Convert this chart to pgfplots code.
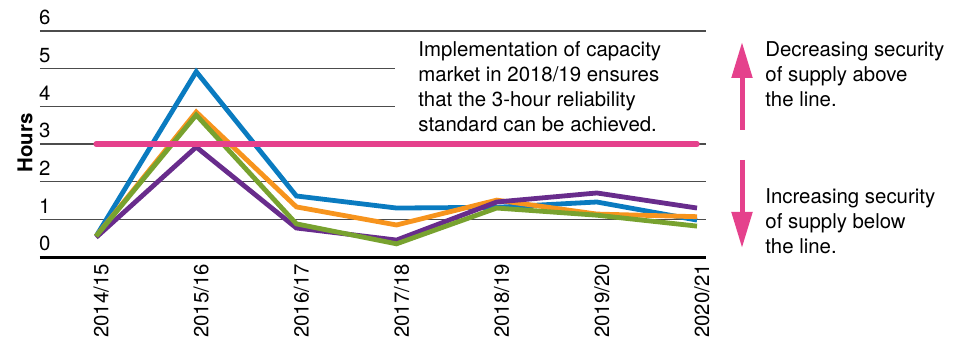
\documentclass[border=0pt]{standalone}
\usepackage{fontspec}
\setmainfont{TeX Gyre Heros}
\usepackage{pgfplots}
\pgfplotsset{compat=1.18}
\usetikzlibrary{arrows.meta}

\definecolor{cblue}{HTML}{0A7BC0}
\definecolor{corange}{HTML}{F7941D}
\definecolor{cgreen}{HTML}{78A22F}
\definecolor{cpurple}{HTML}{682C8C}
\definecolor{cpink}{HTML}{E5418C}

\begin{document}
\begin{tikzpicture}[font=\fontsize{10.2bp}{12.6bp}\selectfont]
  \path[use as bounding box] (-20bp,-46bp) rectangle (458bp,128.5bp);
  \begin{axis}[
    scale only axis,
    width=333bp, height=113bp,
    at={(0,0)}, anchor=south west,
    xmin=-0.56, xmax=6.09,
    ymin=0, ymax=6,
    axis x line=bottom,
    axis y line=left,
    axis line style={-},
    x axis line style={line width=1.5bp},
    y axis line style={draw=none},
    xtick={0,...,6},
    xticklabels={2014/15,2015/16,2016/17,2017/18,2018/19,2019/20,2020/21},
    ytick={0,...,6},
    major tick length=0pt,
    xticklabel style={rotate=90, anchor=east, yshift=-2.5bp},
    yticklabel style={anchor=south west, xshift=-4bp, yshift=-0.5bp},
    /pgf/number format/assume math mode=true,
    ymajorgrids,
    grid style={line width=0.6bp, draw=black!70},
    clip=false,
  ]
    % Blue
    \addplot[cblue, line width=2.4bp] coordinates {
      (0,0.55) (1,4.92) (2,1.62) (3,1.30) (4,1.32) (5,1.46) (6,0.98)
    };
    % Orange
    \addplot[corange, line width=2.4bp] coordinates {
      (0,0.55) (1,3.85) (2,1.33) (3,0.85) (4,1.51) (5,1.14) (6,1.07)
    };
    % Purple
    \addplot[cpurple, line width=2.4bp] coordinates {
      (0,0.52) (1,2.92) (2,0.77) (3,0.45) (4,1.46) (5,1.70) (6,1.30)
    };
    % Green
    \addplot[cgreen, line width=2.4bp] coordinates {
      (0,0.55) (1,3.77) (2,0.88) (3,0.35) (4,1.30) (5,1.11) (6,0.82)
    };
    % 3-hour reliability standard
    \addplot[cpink, line width=2.7bp, line cap=round] coordinates {
      (0,3) (6,3)
    };
  \end{axis}

  \node[rotate=90, font=\fontsize{10.2bp}{12.6bp}\selectfont\bfseries] at (-7.5bp,57bp) {Hours};

  % white box behind the note
  \fill[white] (177.5bp,61bp) rectangle (336bp,108.5bp);
  \node[anchor=north west, inner sep=0pt, align=left] at (189bp,108bp)
    {Implementation of capacity\\market in 2018/19 ensures\\that the 3-hour reliability\\standard can be achieved.};

  % arrows on the right
  \draw[cpink, line width=2.5bp, -{Triangle[width=10bp,length=18bp]}]
    (351bp,63.5bp) -- (351bp,107.5bp);
  \draw[cpink, line width=2.5bp, -{Triangle[width=10bp,length=18bp]}]
    (351bp,48.5bp) -- (351bp,4.5bp);
  \node[anchor=north west, inner sep=0pt, align=left] at (362.5bp,108bp)
    {Decreasing security\\of supply above\\the line.};
  \node[anchor=north west, inner sep=0pt, align=left] at (362.5bp,34.5bp)
    {Increasing security\\of supply below\\the line.};
\end{tikzpicture}
\end{document}
